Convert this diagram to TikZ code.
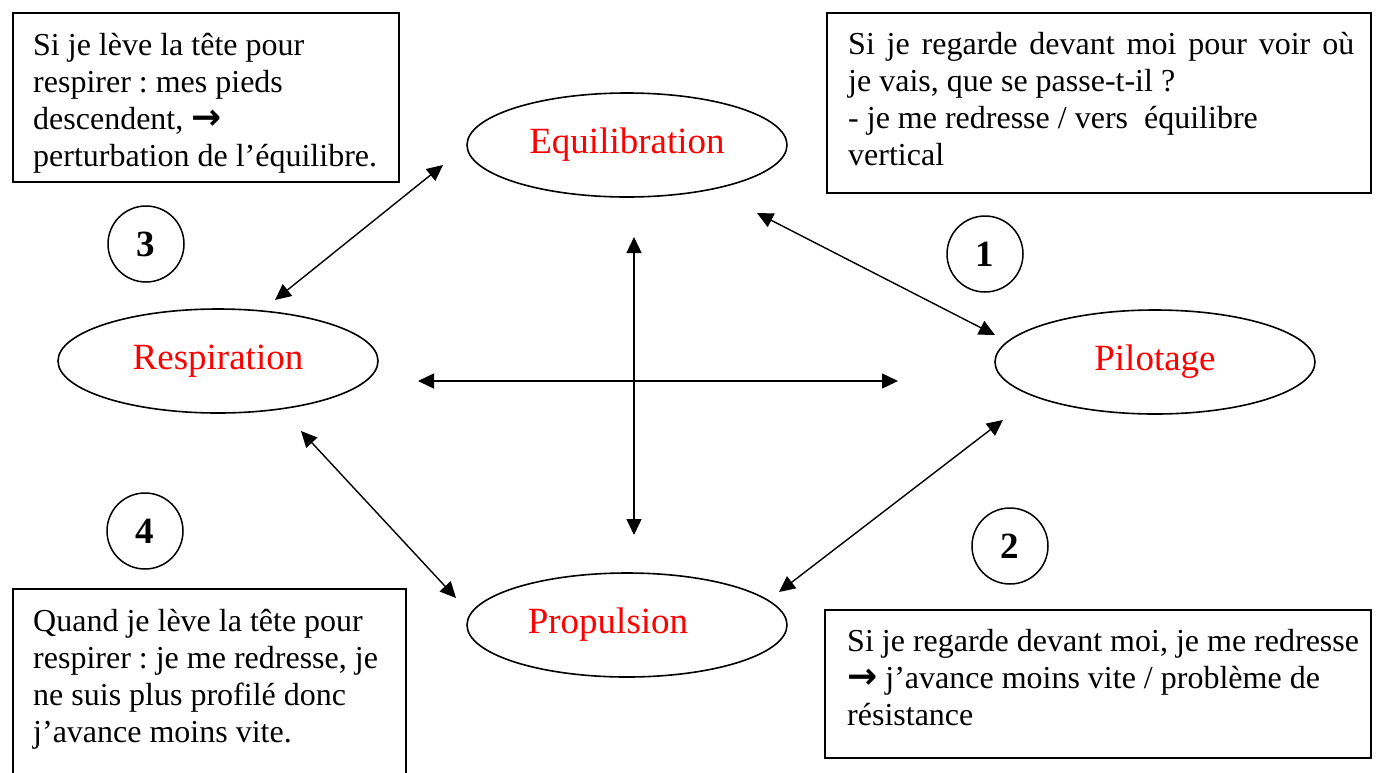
\documentclass[tikz,border=0pt]{standalone}
\usepackage{fontspec}
\setmainfont{Liberation Serif}
\newfontfamily\arrowfont{DejaVu Sans}
\newcommand{\bigarrow}{{\arrowfont\bfseries\fontsize{36}{37}\selectfont →}}
\newcommand{\boxtextfont}{\fontsize{32}{37}\selectfont\frenchspacing}
\frenchspacing
\usetikzlibrary{shapes.geometric,arrows.meta}
\begin{document}
\begin{tikzpicture}[x=1pt,y=-1pt,
  box/.style={draw, line width=1.5pt, anchor=north west, inner sep=0},
  bubble/.style={ellipse, draw, line width=1.6pt, minimum width=320pt, minimum height=104pt, inner sep=0, text=red, font=\fontsize{37}{42}\selectfont},
  num/.style={circle, draw, line width=1.5pt, minimum size=76pt, inner sep=0, font=\fontsize{37}{42}\selectfont\bfseries},
  txt/.style={anchor=base west, inner sep=0, text width=560pt, align=flush left, font=\boxtextfont},
  link/.style={line width=1.4pt, {Triangle[length=16pt,width=15pt]}-{Triangle[length=16pt,width=15pt]}}]
\useasboundingbox (0,0) rectangle (1379,772);
\clip (0,0) rectangle (1379,772);
% text boxes
\node[box, minimum width=386pt, minimum height=169pt] (boxTL) at (12,12) {};
\node[txt] (txtTL) at (33,55) {Si je lève la tête pour\\respirer : mes pieds\\descendent, \bigarrow\\perturbation de l’équilibre.};
\node[box, minimum width=544pt, minimum height=180pt] (boxTR) at (826,12) {};
\node[txt] (txtTR) at (848,54) {\makebox[506pt][s]{Si je regarde devant moi pour voir où}\\je vais, que se passe-t-il ?\\- je me redresse / vers\ \ équilibre\\vertical};
\node[box, minimum width=393pt, minimum height=260pt] (boxBL) at (12,588) {};
\node[txt] (txtBL) at (33,631) {Quand je lève la tête pour\\respirer : je me redresse, je\\ne suis plus profilé donc\\j’avance moins vite.};
\node[box, minimum width=546pt, minimum height=148pt] (boxBR) at (824,609) {};
\node[txt] (txtBR) at (847,651) {Si je regarde devant moi, je me redresse\\\bigarrow{} j’avance moins vite / problème de\\résistance};
% ellipses
\node[bubble] (equi) at (627,145) {Equilibration};
\node[bubble] (resp) at (218,361) {Respiration};
\node[bubble] (pilo) at (1155,362) {Pilotage};
\node[bubble] (prop) at (627,625) {Propulsion\hspace*{38pt}};
% numbered circles
\node[num] (n3) at (146,244) {3};
\node[num] (n1) at (985,254) {1};
\node[num] (n4) at (145,531) {4};
\node[num] (n2) at (1010,546) {2};
% arrow end points
\coordinate (h1) at (418,381);
\coordinate (h2) at (898,381);
\coordinate (v1) at (634,237);
\coordinate (v2) at (634,535);
\coordinate (d1a) at (757,213);
\coordinate (d1b) at (995,335);
\coordinate (d3a) at (443,165);
\coordinate (d3b) at (275,300);
\coordinate (d4a) at (301,431);
\coordinate (d4b) at (456,598);
\coordinate (d2a) at (1003,420);
\coordinate (d2b) at (779,592);
\draw[link] (h1) -- (h2);
\draw[link] (v1) -- (v2);
\draw[link] (d1a) -- (d1b);
\draw[link] (d3a) -- (d3b);
\draw[link] (d4a) -- (d4b);
\draw[link] (d2a) -- (d2b);
\end{tikzpicture}
\end{document}
